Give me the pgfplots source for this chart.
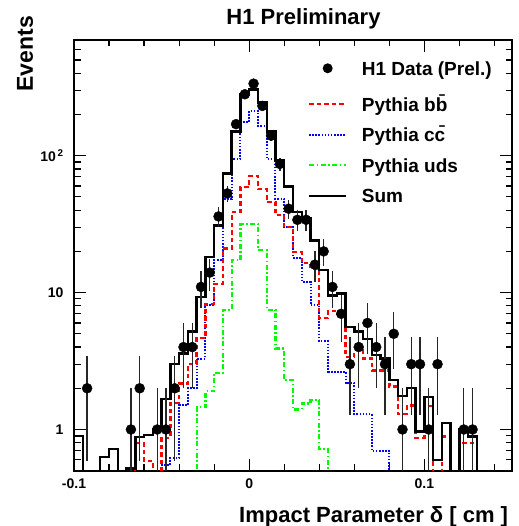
\documentclass[border=0pt]{standalone}
\usepackage{pgfplots}
\usepackage{pgfplotstable}
\pgfplotsset{compat=1.18}
\usepackage{fontspec}
\setmainfont{Liberation Sans}
\definecolor{rootred}{RGB}{255,0,0}
\definecolor{rootblue}{RGB}{0,0,255}
\definecolor{rootgreen}{RGB}{0,250,0}

% bin left edges (width 0.005); last row closes the histogram
\pgfplotstableread{
x y
-0.100 0.9
-0.095 0.01
-0.090 0.01
-0.085 0.63
-0.080 0.72
-0.075 0.01
-0.070 0.52
-0.065 0.88
-0.060 0.91
-0.055 1.0
-0.050 1.67
-0.045 3.0
-0.040 3.6
-0.035 5.2
-0.030 9.3
-0.025 18.2
-0.020 31
-0.015 74
-0.010 150
-0.005 280
0.000 305
0.005 244
0.010 150
0.015 92
0.020 59.5
0.025 38.7
0.030 35
0.035 24
0.040 14.6
0.045 9.5
0.050 9.85
0.055 5.6
0.060 5.2
0.065 4.6
0.070 3.5
0.075 3.3
0.080 2.3
0.085 1.75
0.090 2.0
0.095 0.97
0.100 1.72
0.105 0.6
0.110 1.12
0.115 0.01
0.120 1.0
0.125 0.89
0.130 0.01
0.135 0.01
0.140 0.01
0.145 0.01
0.150 0.01
}\sumtab

\pgfplotstableread{
x y
-0.100 0.01
-0.095 0.01
-0.090 0.01
-0.085 0.01
-0.080 0.01
-0.075 0.01
-0.070 0.01
-0.065 0.8
-0.060 0.59
-0.055 0.01
-0.050 0.87
-0.045 1.56
-0.040 2.17
-0.035 3.0
-0.030 4.65
-0.025 8.3
-0.020 11.5
-0.015 21
-0.010 38.7
-0.005 58.9
0.000 71
0.005 57
0.010 45.7
0.015 37
0.020 30
0.025 19.8
0.030 16.5
0.035 15
0.040 6.5
0.045 7.3
0.050 7.0
0.055 3.4
0.060 3.8
0.065 3.3
0.070 2.7
0.075 2.7
0.080 2.06
0.085 1.3
0.090 1.5
0.095 0.87
0.100 1.48
0.105 0.01
0.110 0.89
0.115 0.01
0.120 0.8
0.125 0.8
0.130 0.01
0.135 0.01
0.140 0.01
0.145 0.01
0.150 0.01
}\bbtab

\pgfplotstableread{
x y
-0.100 0.01
-0.095 0.01
-0.090 0.01
-0.085 0.01
-0.080 0.01
-0.075 0.01
-0.070 0.01
-0.065 0.01
-0.060 0.01
-0.055 0.01
-0.050 0.55
-0.045 0.62
-0.040 1.5
-0.035 2.0
-0.030 3.3
-0.025 8.1
-0.020 17.2
-0.015 48
-0.010 94.6
-0.005 175
0.000 212
0.005 165
0.010 94.6
0.015 48.4
0.020 30
0.025 18
0.030 12
0.035 8.1
0.040 4.4
0.045 2.65
0.050 2.65
0.055 2.18
0.060 1.29
0.065 1.29
0.070 0.7
0.075 0.7
0.080 0.01
0.085 0.01
0.090 0.01
0.095 0.01
0.100 0.01
0.105 0.01
0.110 0.01
0.115 0.01
0.120 0.01
0.125 0.01
0.130 0.01
0.135 0.01
0.140 0.01
0.145 0.01
0.150 0.01
}\cctab

\pgfplotstableread{
x y
-0.100 0.01
-0.095 0.01
-0.090 0.01
-0.085 0.01
-0.080 0.01
-0.075 0.01
-0.070 0.01
-0.065 0.01
-0.060 0.01
-0.055 0.01
-0.050 0.01
-0.045 0.01
-0.040 0.01
-0.035 0.01
-0.030 1.45
-0.025 1.9
-0.020 2.6
-0.015 7.5
-0.010 17.2
-0.005 31.8
0.000 31.8
0.005 20.4
0.010 7.5
0.015 3.9
0.020 2.3
0.025 1.4
0.030 1.55
0.035 1.65
0.040 0.72
0.045 0.01
0.050 0.01
0.055 0.01
0.060 0.01
0.065 0.01
0.070 0.01
0.075 0.01
0.080 0.01
0.085 0.01
0.090 0.01
0.095 0.01
0.100 0.01
0.105 0.01
0.110 0.01
0.115 0.01
0.120 0.01
0.125 0.01
0.130 0.01
0.135 0.01
0.140 0.01
0.145 0.01
0.150 0.01
}\udstab

% data: bin centre, counts, upper and lower error (sqrt N)
\pgfplotstableread{
x y ep em
-0.0925 2 1.414 1.414
-0.0675 1 1 0.999
-0.0625 2 1.414 1.414
-0.0525 1 1 0.999
-0.0475 1 1 0.999
-0.0425 2 1.414 1.414
-0.0375 4 2 2
-0.0325 4 2 2
-0.0275 11 3.317 3.317
-0.0225 14 3.742 3.742
-0.0175 36 6 6
-0.0125 53 7.28 7.28
-0.0075 170 13.04 13.04
-0.0025 281 16.76 16.76
0.0025 336 18.33 18.33
0.0075 231 15.2 15.2
0.0125 140 11.83 11.83
0.0175 87 9.33 9.33
0.0225 41 6.4 6.4
0.0275 34 5.83 5.83
0.0325 34 5.83 5.83
0.0375 16 4 4
0.0425 20 4.47 4.47
0.0475 11 3.317 3.317
0.0525 7 2.646 2.646
0.0575 3 1.732 1.732
0.0625 4 2 2
0.0675 6 2.449 2.449
0.0725 4 2 2
0.0775 3 1.732 1.732
0.0825 5 2.236 2.236
0.0875 1 1 0.999
0.0925 3 1.732 1.732
0.0975 3 1.732 1.732
0.1025 1 1 0.999
0.1075 3 1.732 1.732
0.1225 1 1 0.999
0.1275 1 1 0.999
}\datatab

\begin{document}
\begin{tikzpicture}
\begin{axis}[
  at={(0pt,0pt)}, anchor=south west,
  width=438pt, height=430.7pt, scale only axis,
  xmin=-0.1, xmax=0.15,
  ymode=log, ymin=0.5, ymax=700,
  xtick={-0.1,0,0.1},
  xticklabels={-0.1,0,0.1},
  minor xtick={-0.08,-0.06,-0.04,-0.02,0.02,0.04,0.06,0.08,0.12,0.14},
  ytick={1,10,100},
  yticklabels={1,10,10\hspace{1.5pt}\textsuperscript{2}},
  minor ytick={0.6,0.7,0.8,0.9,2,3,4,5,6,7,8,9,20,30,40,50,60,70,80,90,200,300,400,500,600,700},
  tick align=inside, tick pos=both,
  major tick length=12pt, minor tick length=6.5pt,
  every tick/.style={black, line width=1.2pt},
  axis line style={line width=1.8pt},
  ticklabel style={font=\fontsize{14}{16}\selectfont\bfseries},
  xticklabel style={yshift=-4.5pt},
  yticklabel style={xshift=-7pt},
  legend cell align=left,
  legend style={draw=none, fill=none, at={(0.5342,0.9594)}, anchor=north west,
    inner sep=0pt, outer sep=0pt, row sep=8.9pt, column sep=14.5pt,
    nodes={inner sep=0pt, outer sep=0pt, text height=17.6pt, text depth=4pt},
    font=\fontsize{19}{22}\selectfont\bfseries},
  legend image code/.code={\draw[#1] (0pt,0pt) -- (37pt,0pt);},
]
\addplot[const plot, rootgreen, line width=2.2pt, dash pattern=on 5pt off 2.5pt on 1.5pt off 2.5pt, forget plot] table {\udstab};
\addplot[const plot, rootblue, line width=2pt, dash pattern=on 1.6pt off 1.5pt, forget plot] table {\cctab};
\addplot[const plot, rootred, line width=2.3pt, dash pattern=on 4.5pt off 3pt, forget plot] table {\bbtab};
\addplot[const plot, black, line width=2.4pt, forget plot] table {\sumtab};
\addplot[only marks, mark=*, mark size=5pt, black, forget plot,
  error bars/.cd, y dir=both, y explicit, error mark=none,
  error bar style={line width=1.3pt, black!85}]
  table[x=x, y=y, y error plus=ep, y error minus=em] {\datatab};

\addlegendimage{draw=none, legend image code/.code={\path (0pt,-16.3pt) rectangle (37pt,0pt); \fill[black] (18.5pt,0pt) circle (5pt);}}
\addlegendentry{H1 Data (Prel.)}
\addlegendimage{rootred, line width=2.3pt, dash pattern=on 4.5pt off 3pt}
\addlegendentry{Pythia b\={b}}
\addlegendimage{rootblue, line width=2pt, dash pattern=on 1.6pt off 1.5pt}
\addlegendentry{Pythia c\={c}}
\addlegendimage{rootgreen, line width=2.2pt, dash pattern=on 5pt off 2.5pt on 1.5pt off 2.5pt}
\addlegendentry{Pythia uds}
\addlegendimage{black, line width=2.4pt}
\addlegendentry{Sum}
\end{axis}
\node[anchor=base, font=\fontsize{22}{26}\selectfont\bfseries] at (229.5pt,445.7pt) {H1 Preliminary};
\node[anchor=base east, rotate=90, font=\fontsize{23}{27}\selectfont\bfseries, inner sep=0pt] at (-41pt,454.7pt) {Events};
\node[anchor=base east, font=\fontsize{22}{26}\selectfont\bfseries, inner sep=0pt] at (434.3pt,-51.3pt) {Impact Parameter δ [ cm ]};
\pgfresetboundingbox
\path (-74pt,-55.3pt) rectangle (444pt,470.7pt);
\end{tikzpicture}
\end{document}
